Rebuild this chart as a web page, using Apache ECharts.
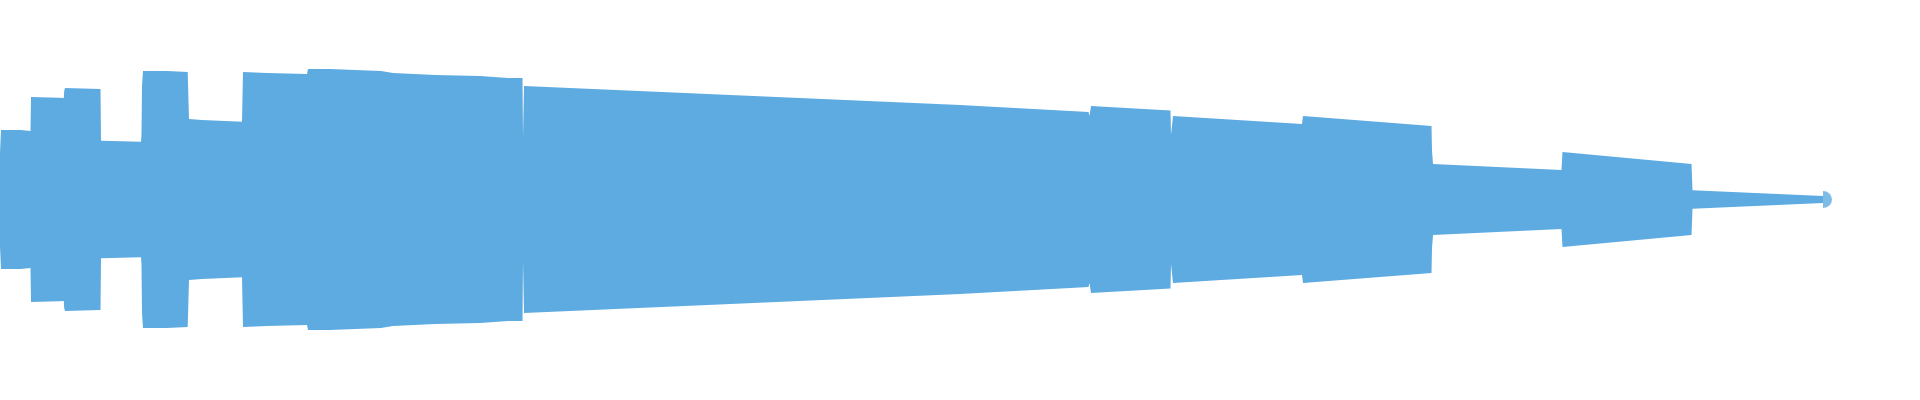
<!DOCTYPE html>
<html>
<head>
<meta charset="utf-8">
<script src="https://cdn.jsdelivr.net/npm/echarts@6/dist/echarts.min.js"></script>
<style>
html,body{margin:0;padding:0;background:#fff;}
#chart{width:1920px;height:400px;}
</style>
</head>
<body>
<div id="chart"></div>
<script>
// time positions (x) and envelope amplitude (half-width of the band)
var times = [0, 1, 20.7, 30.5, 31, 59, 63.8, 64.2, 65, 100.5, 101, 141, 141.5, 142, 143, 167, 187.7, 188.3, 189, 202, 242, 243, 267, 307, 308, 309, 330, 355, 381, 393, 435, 480, 508, 522.5, 523, 524, 960, 1088.5, 1089.5, 1091, 1170.5, 1171, 1173, 1302, 1303, 1431.5, 1432, 1433, 1561.5, 1562.5, 1691.5, 1692.5, 1823];
var amplitude = [46.8, 69.5, 69.5, 68.5, 102.5, 101.8, 101.6, 108.5, 111.5, 110.5, 58.8, 57.8, 65.5, 113.5, 128.5, 128.5, 127.5, 105.5, 80.5, 79.5, 77.8, 127.5, 126.5, 125.5, 130.5, 131.5, 130.5, 129.5, 128.5, 126.5, 124.5, 123.5, 121.5, 121.5, 61.5, 113.5, 94.5, 87.5, 83.5, 93.5, 89, 64.5, 83.5, 75.5, 83.5, 73.5, 48.8, 35.5, 29.5, 47.5, 35.5, 9.2, 3.5];

var color = '#5dabe1';
var upper = times.map(function (t, i) { return [t, amplitude[i]]; });
var lower = times.map(function (t, i) { return [t, -amplitude[i]]; });
var tip = [[times[times.length - 1], 0]];

var chart = echarts.init(document.getElementById('chart'), null, {renderer: 'canvas'});
chart.setOption({
  animation: false,
  grid: {left: 0, right: 0, top: 0, bottom: 0},
  xAxis: {type: 'value', min: 0, max: 1920, show: false},
  yAxis: {type: 'value', min: -200.5, max: 199.5, show: false},
  series: [
    {
      type: 'line', data: lower,
      showSymbol: false, symbol: 'none',
      lineStyle: {width: 0, opacity: 0},
      areaStyle: {color: color, opacity: 1, origin: 1.5}, silent: true
    },
    {
      type: 'line', data: upper,
      showSymbol: false, symbol: 'none',
      lineStyle: {width: 0, opacity: 0},
      areaStyle: {color: color, opacity: 1, origin: -1.5}, silent: true
    },
    {
      type: 'scatter', data: tip,
      symbol: 'path://M0,0 A10,10 0 0 1 0,20 Z',
      symbolSize: [9, 17], symbolOffset: [4.5, 0],
      itemStyle: {color: color}, silent: true
    }
  ]
});
</script>
</body>
</html>
